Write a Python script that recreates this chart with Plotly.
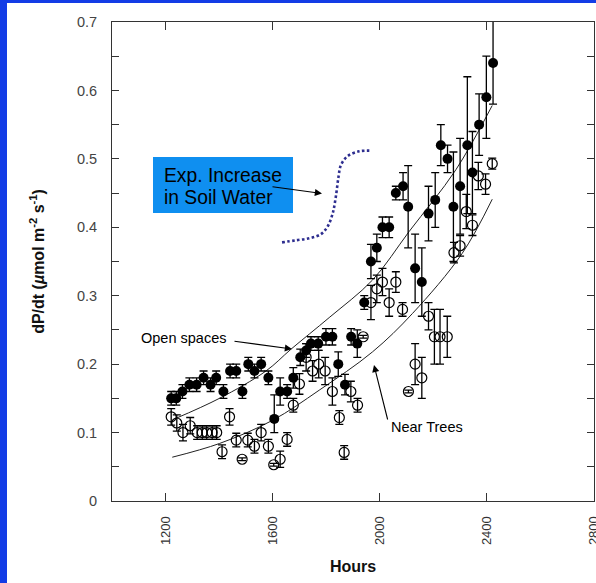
import plotly.graph_objects as go

# ---------------- data ----------------
open_x = [1221, 1240, 1263, 1289, 1316, 1342, 1368, 1389, 1416, 1441, 1464, 1487, 1509, 1532, 1557, 1584,
          1606, 1628, 1654, 1677, 1703, 1725, 1743, 1770, 1799, 1823, 1845, 1870, 1893, 1916, 1942,
          1967, 1989, 2010, 2035, 2060, 2087, 2106, 2132, 2157, 2182, 2207, 2228, 2253, 2275, 2300,
          2327, 2346, 2371, 2398, 2423]
open_y = [0.15, 0.15, 0.16, 0.17, 0.17, 0.18, 0.17, 0.18, 0.16, 0.19, 0.19, 0.16, 0.20, 0.19, 0.20, 0.18,
          0.12, 0.16, 0.16, 0.18, 0.21, 0.22, 0.23, 0.23, 0.24, 0.24, 0.20, 0.17, 0.24, 0.23, 0.29,
          0.35, 0.37, 0.40, 0.40, 0.45, 0.46, 0.43, 0.34, 0.32, 0.42, 0.44, 0.52, 0.50, 0.43, 0.46,
          0.52, 0.48, 0.55, 0.59, 0.64]
open_err_up = [0.01, 0.01, 0.01, 0.01, 0.01, 0.01, 0.01, 0.01, 0.01, 0.01, 0.01, 0.01, 0.01, 0.01, 0.01, 0.01,
               0.035, 0.02, 0.01, 0.015, 0.012, 0.01, 0.01, 0.01, 0.012, 0.012, 0.018, 0.015, 0.012, 0.02, 0.01,
               0.025, 0.02, 0.015, 0.015, 0.01, 0.02, 0.06, 0.05, 0.05, 0.04, 0.04, 0.03, 0.02, 0.08, 0.07,
               0.1, 0.06, 0.045, 0.06, 0.1]
open_err_down = [0.01, 0.01, 0.01, 0.01, 0.01, 0.01, 0.01, 0.01, 0.01, 0.01, 0.01, 0.01, 0.01, 0.01, 0.01, 0.01,
                 0.02, 0.02, 0.01, 0.015, 0.012, 0.01, 0.01, 0.01, 0.012, 0.012, 0.018, 0.015, 0.012, 0.02, 0.01,
                 0.025, 0.02, 0.015, 0.015, 0.01, 0.02, 0.06, 0.05, 0.05, 0.04, 0.04, 0.03, 0.02, 0.08, 0.07,
                 0.1, 0.06, 0.045, 0.06, 0.06]

near_x = [1221, 1242, 1265, 1292, 1318, 1337, 1354, 1374, 1391, 1411, 1439, 1464, 1486, 1507, 1532, 1557,
          1584, 1604, 1628, 1654, 1677, 1700, 1725, 1749, 1772, 1796, 1823, 1849, 1867, 1892, 1917, 1938,
          1967, 1989, 2010, 2035, 2060, 2085, 2107, 2132, 2157, 2182, 2204, 2225, 2252, 2277, 2300, 2323,
          2346, 2368, 2395, 2420]
near_y = [0.123, 0.114, 0.10, 0.11, 0.10, 0.10, 0.10, 0.10, 0.10, 0.072, 0.123, 0.089, 0.061, 0.089, 0.080, 0.10,
          0.080, 0.053, 0.061, 0.09, 0.14, 0.171, 0.21, 0.19, 0.20, 0.19, 0.16, 0.122, 0.071, 0.16, 0.14, 0.24,
          0.29, 0.31, 0.32, 0.29, 0.32, 0.28, 0.16, 0.20, 0.18, 0.27, 0.24, 0.24, 0.24, 0.363, 0.373, 0.423,
          0.403, 0.475, 0.463, 0.493]
near_err = [0.012, 0.012, 0.012, 0.012, 0.01, 0.01, 0.01, 0.01, 0.01, 0.01, 0.012, 0.01, 0.002, 0.01, 0.01, 0.012,
            0.01, 0.002, 0.012, 0.01, 0.01, 0.015, 0.02, 0.015, 0.02, 0.02, 0.02, 0.01, 0.01, 0.015, 0.01, 0.002,
            0.025, 0.02, 0.02, 0.02, 0.015, 0.01, 0.002, 0.03, 0.03, 0.02, 0.04, 0.04, 0.03, 0.015, 0.015, 0.025,
            0.015, 0.02, 0.015, 0.008]

fit_open_x = [1234, 1401, 1575, 1669, 1811, 1973, 2110, 2284, 2420]
fit_open_y = [0.12, 0.15, 0.19, 0.222, 0.268, 0.323, 0.394, 0.484, 0.578]
fit_near_x = [1225, 1401, 1600, 1774, 1973, 2122, 2308, 2420]
fit_near_y = [0.064, 0.084, 0.118, 0.162, 0.218, 0.274, 0.362, 0.441]

soil_x = [1635, 1687, 1737, 1780, 1805, 1824, 1836, 1846, 1855, 1880, 1923, 1961]
soil_y = [0.378, 0.381, 0.384, 0.390, 0.401, 0.420, 0.445, 0.474, 0.491, 0.504, 0.511, 0.512]

x_ticks = [1200, 1600, 2000, 2400, 2800]
y_ticks = [0, 0.1, 0.2, 0.3, 0.4, 0.5, 0.6, 0.7]
y_ticktext = ["0", "0.1", "0.2", "0.3", "0.4", "0.5", "0.6", "0.7"]

# ---------------- layout geometry ----------------
W, H = 596, 583
ML, MR, MT, MB = 112, 2, 22, 82
PW, PH = W - ML - MR, H - MT - MB
XR = [1000, 2800]
YR = [0, 0.7]


def px2x(px):
    return XR[0] + (px - ML) / PW * (XR[1] - XR[0])


def py2y(py):
    return YR[0] + (MT + PH - py) / PH * (YR[1] - YR[0])


def ppx(px):
    return (px - ML) / PW


def ppy(py):
    return (MT + PH - py) / PH


FONT = "Liberation Sans, Arial, sans-serif"
BLUE = "#133ce6"

fig = go.Figure()

fig.add_trace(go.Scatter(x=fit_open_x, y=fit_open_y, mode="lines", line=dict(color="#222", width=1, shape="spline"),
                         hoverinfo="skip", showlegend=False))
fig.add_trace(go.Scatter(x=fit_near_x, y=fit_near_y, mode="lines", line=dict(color="#222", width=1, shape="spline"),
                         hoverinfo="skip", showlegend=False))
fig.add_trace(go.Scatter(x=soil_x, y=soil_y, mode="lines",
                         line=dict(color="#2d2d8f", width=2.6, dash="2.6px,2.4px", shape="spline"),
                         hoverinfo="skip", showlegend=False))

fig.add_trace(go.Scatter(
    x=near_x, y=near_y, mode="markers", name="Near Trees",
    marker=dict(symbol="circle-open", size=10, color="black", line=dict(width=1.2, color="black")),
    error_y=dict(type="data", array=near_err, color="black", thickness=1.3, width=4),
    showlegend=False))
fig.add_trace(go.Scatter(
    x=open_x, y=open_y, mode="markers", name="Open spaces",
    marker=dict(symbol="circle", size=10, color="black"),
    error_y=dict(type="data", array=open_err_up, arrayminus=open_err_down, symmetric=False,
                 color="black", thickness=1.3, width=4),
    showlegend=False))

shapes = [
    # blue frame strips
    dict(type="rect", xref="paper", yref="paper", x0=ppx(0), x1=ppx(7), y0=ppy(H), y1=ppy(0),
         fillcolor=BLUE, line=dict(width=0), layer="below"),
    dict(type="rect", xref="paper", yref="paper", x0=ppx(0), x1=ppx(W), y0=ppy(3), y1=ppy(0),
         fillcolor=BLUE, line=dict(width=0), layer="below"),
    # blue text box
    dict(type="rect", xref="x", yref="y", x0=px2x(153), x1=px2x(293), y0=py2y(213), y1=py2y(157),
         fillcolor="#0f8ff0", line=dict(width=0), layer="above"),
]

annotations = [
    dict(x=px2x(162), y=py2y(175), xref="x", yref="y", text="Exp. Increase", showarrow=False,
         xanchor="left", yanchor="middle", font=dict(family=FONT, size=19.3, color="black")),
    dict(x=px2x(162), y=py2y(197), xref="x", yref="y", text="in Soil Water", showarrow=False,
         xanchor="left", yanchor="middle", font=dict(family=FONT, size=19.3, color="black")),
    dict(x=px2x(322), y=py2y(193.5), ax=px2x(271), ay=py2y(186.5), xref="x", yref="y", axref="x", ayref="y",
         text="", showarrow=True, arrowhead=2, arrowsize=1.3, arrowwidth=1.1, arrowcolor="black"),
    dict(x=px2x(139), y=py2y(338), xref="x", yref="y", text="Open spaces", showarrow=False,
         xanchor="left", yanchor="middle", font=dict(family=FONT, size=14.5, color="black")),
    dict(x=px2x(292), y=py2y(349), ax=px2x(233), ay=py2y(341), xref="x", yref="y", axref="x", ayref="y",
         text="", showarrow=True, arrowhead=2, arrowsize=1.3, arrowwidth=1.1, arrowcolor="black"),
    dict(x=px2x(389), y=py2y(427), xref="x", yref="y", text="Near Trees", showarrow=False,
         xanchor="left", yanchor="middle", font=dict(family=FONT, size=14.5, color="black")),
    dict(x=px2x(374), y=py2y(365), ax=px2x(388), ay=py2y(421), xref="x", yref="y", axref="x", ayref="y",
         text="", showarrow=True, arrowhead=2, arrowsize=1.3, arrowwidth=1.1, arrowcolor="black"),
]

fig.update_layout(
    width=W, height=H,
    margin=dict(l=ML, r=MR, t=MT, b=MB, pad=0),
    paper_bgcolor="white", plot_bgcolor="white",
    font=dict(family=FONT, color="#333"),
    shapes=shapes, annotations=annotations,
    showlegend=False,
    xaxis=dict(range=XR, tickvals=x_ticks, ticktext=[str(v) for v in x_ticks], tickangle=-90,
               ticks="inside", ticklen=8, tickwidth=1, tickcolor="#333",
               showline=True, linecolor="#333", linewidth=1, mirror="ticks",
               showgrid=False, zeroline=False, ticklabelstandoff=9, ticklabeloverflow="allow",
               automargin=False,
               tickfont=dict(family=FONT, size=13, color="#333"),
               title=dict(text="<b>Hours</b>", standoff=16, font=dict(family=FONT, size=16, color="#111"))),
    yaxis=dict(range=YR, tickvals=y_ticks, ticktext=y_ticktext,
               ticks="inside", ticklen=7, tickwidth=1, tickcolor="#333",
               minor=dict(dtick=0.05, tick0=0, ticks="inside", ticklen=7, tickwidth=1, tickcolor="#333"),
               showline=True, linecolor="#333", linewidth=1, mirror="ticks",
               showgrid=False, zeroline=False, ticklabelstandoff=11, automargin=False,
               tickfont=dict(family=FONT, size=14.5, color="#444"),
               title=dict(text="<b>dP/dt (<i>µ</i>mol m<sup>-2</sup> s<sup>-1</sup>)</b>", standoff=28,
                          font=dict(family=FONT, size=16, color="#111"))),
)

fig.write_html("out.html")
